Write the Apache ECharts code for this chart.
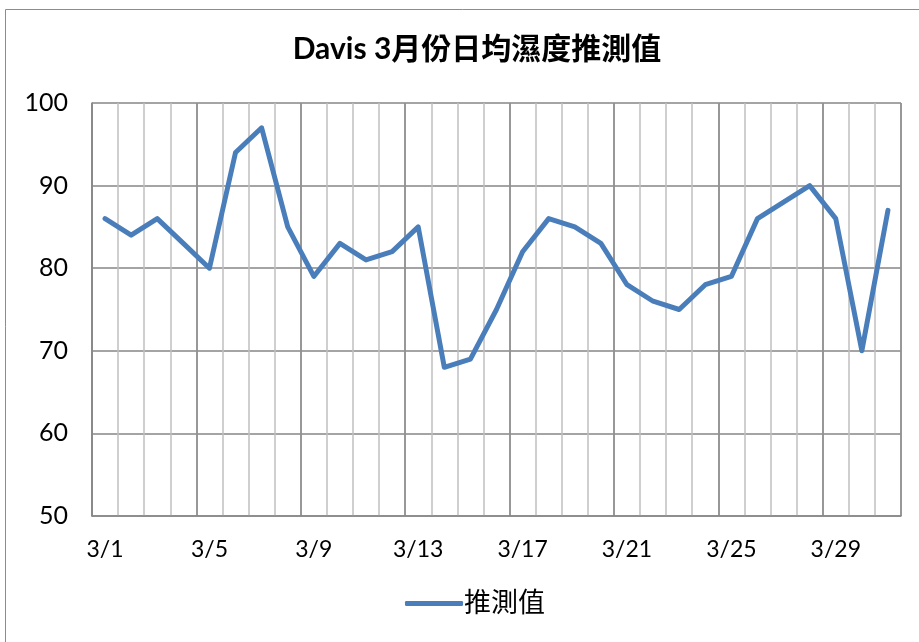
<!DOCTYPE html>
<html>
<head>
<meta charset="utf-8">
<script src="https://cdn.jsdelivr.net/npm/echarts@6/dist/echarts.min.js"></script>
<style>
	html, body { margin: 0; padding: 0; background: #fff; }
	#main { width: 919px; height: 642px; }
</style>
</head>
<body>
<div id="main"></div>
<script>
// 3月每日
var days = [];
for (var d = 1; d <= 31; d++) days.push('3/' + d);
// 推測值 (%)
var humidity = [86, 84, 86, 83, 80, 94, 97, 85, 79, 83, 81, 82, 85, 68, 69, 75,
	82, 86, 85, 83, 78, 76, 75, 78, 79, 86, 88, 90, 86, 70, 87];
var seriesName = '推測值';
var titleText = 'Davis 3月份日均濕度推測值';

var font = 'Lato, "Noto Sans CJK TC", sans-serif';
var myChart = echarts.init(document.getElementById('main'));
var option = {
	animation: false,
	textStyle: { fontFamily: font },
	graphic: [{
		type: 'rect',
		shape: { x: 5.5, y: 9.5, width: 1000, height: 1000 },
		style: { fill: 'none', stroke: '#8c8c8c', lineWidth: 1 }
	}],
	title: {
		text: titleText,
		left: 472,
		textAlign: 'center',
		top: 29,
		textStyle: { fontSize: 30, fontWeight: 'bold', color: '#000', fontFamily: font }
	},
	legend: {
		bottom: 20,
		left: 400,
		itemWidth: 58,
		itemHeight: 5,
		itemGap: 4,
		icon: 'roundRect',
		data: [seriesName],
		textStyle: { fontSize: 27, color: '#000', fontFamily: font, padding: [0, 0, 0, -4] }
	},
	grid: { left: 92, right: 18, top: 103, bottom: 126 },
	xAxis: [{
		type: 'category',
		data: days,
		boundaryGap: true,
		axisLine: { lineStyle: { color: '#868686', width: 1.5 } },
		axisTick: { show: false },
		axisLabel: { interval: 3, fontSize: 23, color: '#000', margin: 22 },
		splitLine: { show: true, interval: 0, lineStyle: { color: '#bfbfbf', width: 1.5 } }
	}, {
		type: 'category',
		data: days,
		position: 'bottom',
		boundaryGap: true,
		axisLine: { show: false },
		axisTick: { show: false },
		axisLabel: { show: false },
		splitLine: { show: true, interval: 3, lineStyle: { color: '#868686', width: 1.5 } }
	}],
	yAxis: {
		type: 'value',
		min: 50,
		max: 100,
		interval: 10,
		axisLine: { show: true, lineStyle: { color: '#868686', width: 1.5 } },
		axisTick: { show: false },
		axisLabel: { fontSize: 25, color: '#000', margin: 24 },
		splitLine: { lineStyle: { color: '#868686', width: 1.5 } }
	},
	series: [{
		name: seriesName,
		type: 'line',
		xAxisIndex: 0,
		data: humidity,
		symbol: 'none',
		itemStyle: { color: '#4a7ebb' },
		lineStyle: { color: '#4a7ebb', width: 5, cap: 'round', join: 'round' }
	}]
};
myChart.setOption(option);
</script>
</body>
</html>
